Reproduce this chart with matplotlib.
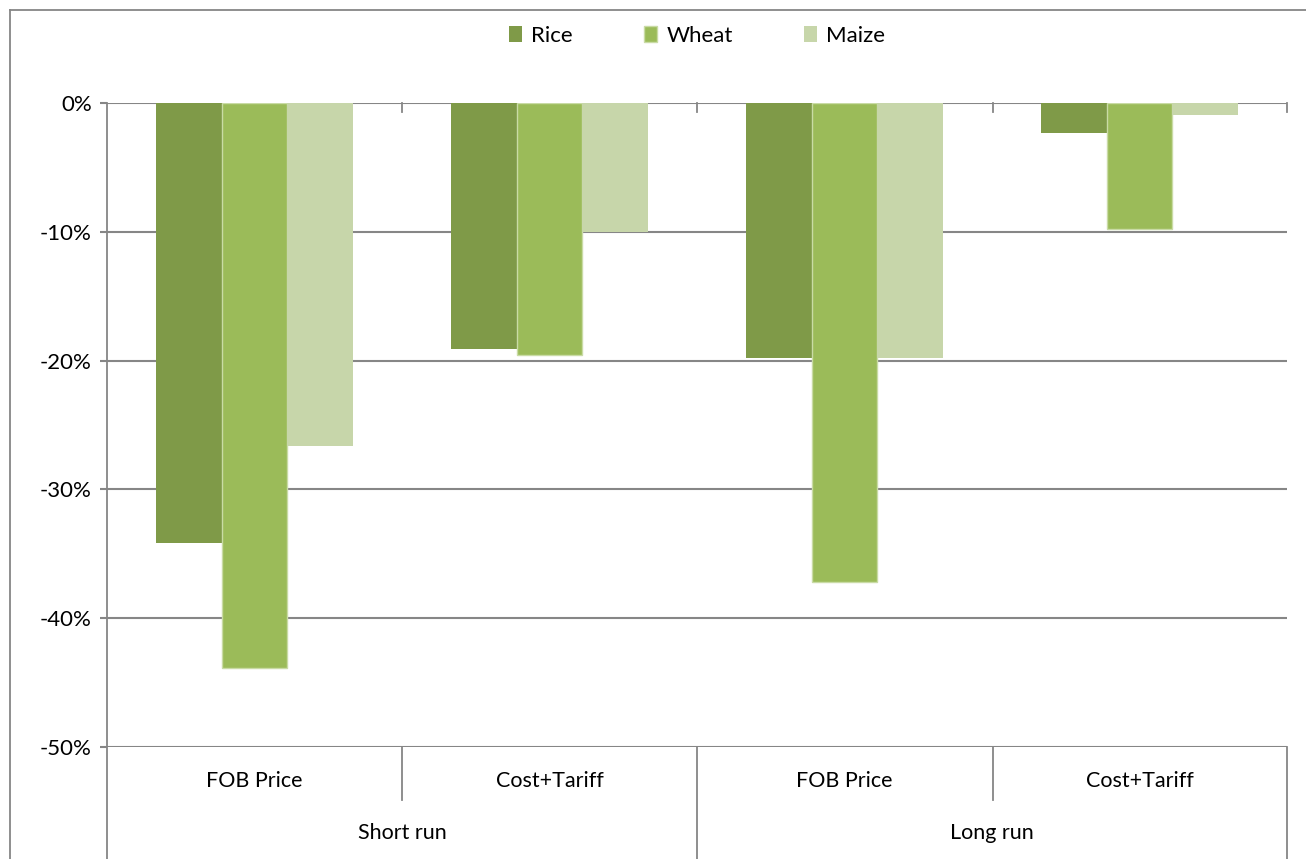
import matplotlib.pyplot as plt
from matplotlib.lines import Line2D
from matplotlib.ticker import FuncFormatter

plt.rcParams['font.family'] = ['Lato', 'DejaVu Sans']

categories = ['FOB Price', 'Cost+Tariff', 'FOB Price', 'Cost+Tariff']
groups = ['Short run', 'Long run']
rice = [-0.342, -0.191, -0.198, -0.023]
wheat = [-0.439, -0.196, -0.372, -0.098]
maize = [-0.266, -0.100, -0.198, -0.009]

W, H = 1306, 859
fig = plt.figure(figsize=(W / 100, H / 100), dpi=100)
L, R, T, B = 107, 1287, 103, 747
ax = fig.add_axes([L / W, 1 - B / H, (R - L) / W, (B - T) / H])

grid = '#868686'
x = list(range(len(categories)))
bw = 0.222
ax.bar([i - bw for i in x], rice, bw, color='#7F9A48', label='Rice', zorder=3)
ax.bar(x, wheat, bw, color='#9BBB59', edgecolor='#C9DBA5', linewidth=1, label='Wheat', zorder=3)
ax.bar([i + bw for i in x], maize, bw, color='#C7D6AA', label='Maize', zorder=3)

ax.set_xlim(-0.5, 3.5)
ax.set_ylim(-0.5, 0)
ax.set_yticks([0, -0.1, -0.2, -0.3, -0.4, -0.5])
ax.yaxis.set_major_formatter(FuncFormatter(lambda v, p: f'{v * 100:.0f}%'))
ax.tick_params(axis='y', length=5, width=1.5, color=grid, labelsize=16, pad=6)
ax.set_xticks([])
for s in ax.spines.values():
    s.set_visible(False)
for v in [0, -0.1, -0.2, -0.3, -0.4, -0.5]:
    ax.axhline(v, color=grid, lw=1.5, zorder=2)

def fline(x0, y0, x1, y1):
    fig.add_artist(Line2D([x0 / W, x1 / W], [1 - y0 / H, 1 - y1 / H], color=grid, lw=1.3))

# axis line and category dividers
fline(L, T, L, H)
fline(R, B, R, H)
fline(R, T, R, T + 9)
for px in [402, 697, 993]:
    fline(px, T, px, T + 9)
fline(402, B, 402, 800)
fline(993, B, 993, 800)
fline(697, B, 697, H)

# two-level category labels
for i, c in enumerate(categories):
    fig.text((L + (i + 0.5) * (R - L) / 4) / W, 1 - 781 / H, c, ha='center', va='center', fontsize=15.5)
for j, g in enumerate(groups):
    fig.text((L + (j + 0.5) * (R - L) / 2) / W, 1 - 833 / H, g, ha='center', va='center', fontsize=15.5)

# outer frame
fline(10, 10, W, 10)
fline(10, 10, 10, H)

fig.legend(loc='center', bbox_to_anchor=(697 / W, 1 - 36 / H), ncol=3, frameon=False,
           fontsize=16, handlelength=0.6, handleheight=0.7, handletextpad=0.4, columnspacing=3.2)

fig.savefig('out.png', dpi=100)
